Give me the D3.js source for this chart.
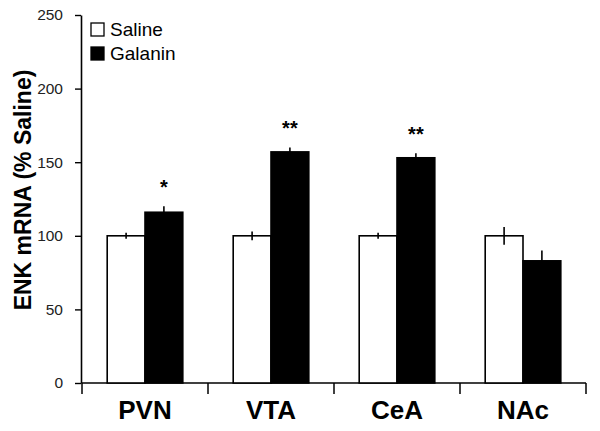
<!DOCTYPE html>
<html>
<head>
<meta charset="utf-8">
<script src="https://cdn.jsdelivr.net/npm/d3@7"></script>
<style>
  body { margin: 0; background: #fff; }
  svg { display: block; font-family: "Liberation Sans", Arial, sans-serif; }
</style>
</head>
<body>
<svg id="chart" width="600" height="431"></svg>
<script>
// data
const categories = ["PVN", "VTA", "CeA", "NAc"];
const groups = ["Saline", "Galanin"];
const salineMeans = [100, 100, 100, 100];
const salineErr = [2, 3, 2, 6];
const galaninMeans = [116, 157, 153, 83];
const galaninErr = [4, 3, 3, 7];
const stars = ["*", "**", "**", ""];
const yTicks = [0, 50, 100, 150, 200, 250];

const svg = d3.select("#chart");

const x = d3.scaleBand()
  .domain(categories)
  .range([82, 586])
  .paddingInner(0.4)
  .paddingOuter(0.2);

const xSub = d3.scaleBand()
  .domain(groups)
  .range([0, x.bandwidth()]);

const y = d3.scaleLinear()
  .domain([0, 250])
  .range([383, 15]);

const rows = categories.map((c, i) => ({
  cat: c,
  bars: [
    { g: "Saline", v: salineMeans[i], e: salineErr[i] },
    { g: "Galanin", v: galaninMeans[i], e: galaninErr[i] }
  ],
  star: stars[i]
}));

// y axis
const yAxis = svg.append("g")
  .attr("transform", "translate(81,0)")
  .call(d3.axisLeft(y).tickValues(yTicks).tickSize(6).tickPadding(12).tickSizeOuter(0));
yAxis.select(".domain").attr("stroke", "#000").attr("stroke-width", 1.6);
yAxis.selectAll(".tick line").attr("stroke", "#000").attr("stroke-width", 1.4);
yAxis.selectAll(".tick text")
  .attr("font-size", 15.5)
  .attr("fill", "#222")
  .attr("font-family", "'Liberation Sans', Arial, sans-serif");

// x axis line + category boundary ticks
const step = x.step();
const bounds = categories.map(c => x(c) - step * x.paddingOuter());
bounds.push(x.range()[1]);

svg.append("line")
  .attr("x1", x.range()[0]).attr("x2", x.range()[1])
  .attr("y1", y(0)).attr("y2", y(0))
  .attr("stroke", "#000").attr("stroke-width", 1.6);

svg.selectAll(".xtick")
  .data(bounds)
  .join("line")
  .attr("class", "xtick")
  .attr("x1", d => d).attr("x2", d => d)
  .attr("y1", y(0)).attr("y2", y(0) + 11)
  .attr("stroke", "#000").attr("stroke-width", 1.5);

// bars
const grp = svg.selectAll(".grp")
  .data(rows)
  .join("g")
  .attr("class", "grp")
  .attr("transform", d => `translate(${x(d.cat)},0)`);

grp.selectAll("rect")
  .data(d => d.bars)
  .join("rect")
  .attr("x", d => xSub(d.g))
  .attr("y", d => y(d.v))
  .attr("width", xSub.bandwidth())
  .attr("height", d => y(0) - y(d.v))
  .attr("fill", d => d.g === "Saline" ? "#fff" : "#000")
  .attr("stroke", "#000")
  .attr("stroke-width", 1.6);

// error bars
grp.selectAll(".err")
  .data(d => d.bars)
  .join("line")
  .attr("class", "err")
  .attr("x1", d => xSub(d.g) + xSub.bandwidth() / 2)
  .attr("x2", d => xSub(d.g) + xSub.bandwidth() / 2)
  .attr("y1", d => y(d.v - d.e))
  .attr("y2", d => y(d.v + d.e))
  .attr("stroke", "#000")
  .attr("stroke-width", 1.6);

// significance stars
grp.append("text")
  .attr("x", xSub("Galanin") + xSub.bandwidth() / 2)
  .attr("y", d => y(d.bars[1].v + d.bars[1].e) - 12)
  .attr("text-anchor", "middle")
  .attr("font-size", 20)
  .attr("font-weight", "bold")
  .text(d => d.star);

// category labels
svg.selectAll(".xlab")
  .data(categories)
  .join("text")
  .attr("class", "xlab")
  .attr("x", d => x(d) + x.bandwidth() / 2)
  .attr("y", 419)
  .attr("text-anchor", "middle")
  .attr("font-size", 26)
  .attr("font-weight", "bold")
  .text(d => d);

// y label
svg.append("text")
  .attr("transform", "translate(31,190) rotate(-90)")
  .attr("text-anchor", "middle")
  .attr("font-size", 23)
  .attr("font-weight", "bold")
  .text("ENK mRNA (% Saline)");

// legend
const legend = svg.append("g").attr("transform", "translate(91,23)");
groups.forEach((g, i) => {
  legend.append("rect")
    .attr("x", 0).attr("y", i * 24)
    .attr("width", 13).attr("height", 13)
    .attr("fill", g === "Saline" ? "#fff" : "#000")
    .attr("stroke", "#000").attr("stroke-width", 1.3);
  legend.append("text")
    .attr("x", 19).attr("y", i * 24 + 13)
    .attr("font-size", 19)
    .text(g);
});
</script>
</body>
</html>
